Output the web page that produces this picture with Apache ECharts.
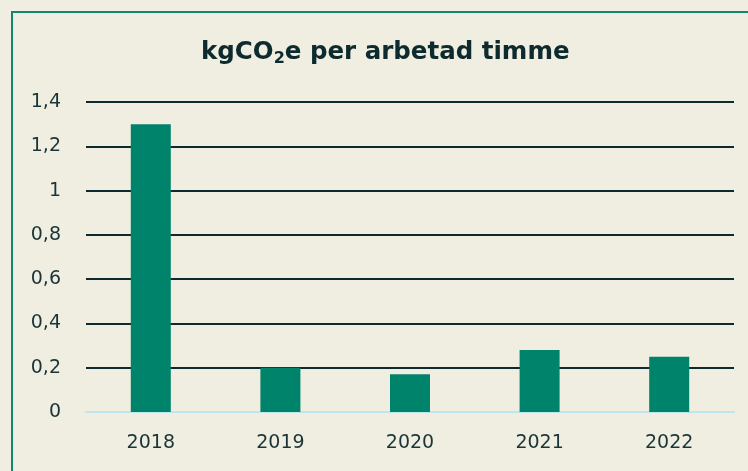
<!DOCTYPE html>
<html>
<head>
<meta charset="utf-8">
<script src="https://cdn.jsdelivr.net/npm/echarts@6/dist/echarts.min.js"></script>
<style>
    html, body {margin: 0; padding: 0; background: #efeee0;}
    #chart {width: 748px; height: 471px;}
</style>
</head>
<body>
<div id="chart"></div>
<script>
var years = ['2018', '2019', '2020', '2021', '2022'];
var values = [1.3, 0.2, 0.17, 0.28, 0.25];

var myChart = echarts.init(document.getElementById('chart'));
var option = {
    backgroundColor: '#efeee0',
    textStyle: {fontFamily: '"DejaVu Sans", sans-serif'},
    graphic: [{
        type: 'rect',
        shape: {x: 12, y: 12, width: 760, height: 480},
        style: {fill: 'none', stroke: '#12876e', lineWidth: 2},
        silent: true
    }],
    title: {
        text: 'kgCO{sub|2}e per arbetad timme',
        left: 196,
        top: 34,
        textStyle: {
            fontSize: 24.5,
            fontWeight: 'bold',
            color: '#0d2a2e',
            fontFamily: '"DejaVu Sans", sans-serif',
            rich: {
                sub: {fontSize: 16, fontWeight: 'bold', color: '#0d2a2e', fontFamily: '"DejaVu Sans", sans-serif', verticalAlign: 'bottom', padding: [12, 0, 0, 0]}
            }
        }
    },
    grid: {left: 86, right: 14, top: 102, bottom: 59},
    xAxis: {
        type: 'category',
        data: years,
        axisTick: {show: false},
        axisLine: {lineStyle: {color: '#bde6ee', width: 2}},
        axisLabel: {color: '#1a3438', fontSize: 19, margin: 22}
    },
    yAxis: {
        type: 'value',
        min: 0,
        max: 1.4,
        interval: 0.2,
        axisLine: {show: false},
        axisTick: {show: false},
        splitLine: {lineStyle: {color: '#0d2a2e', width: 2}},
        axisLabel: {
            color: '#1a3438',
            fontSize: 19,
            margin: 25,
            formatter: function (v) {
                return String(Math.round(v * 10) / 10).replace('.', ',');
            }
        }
    },
    series: [{
        type: 'bar',
        data: values,
        barWidth: 40,
        itemStyle: {color: '#00836b'}
    }]
};
myChart.setOption(option);
</script>
</body>
</html>
